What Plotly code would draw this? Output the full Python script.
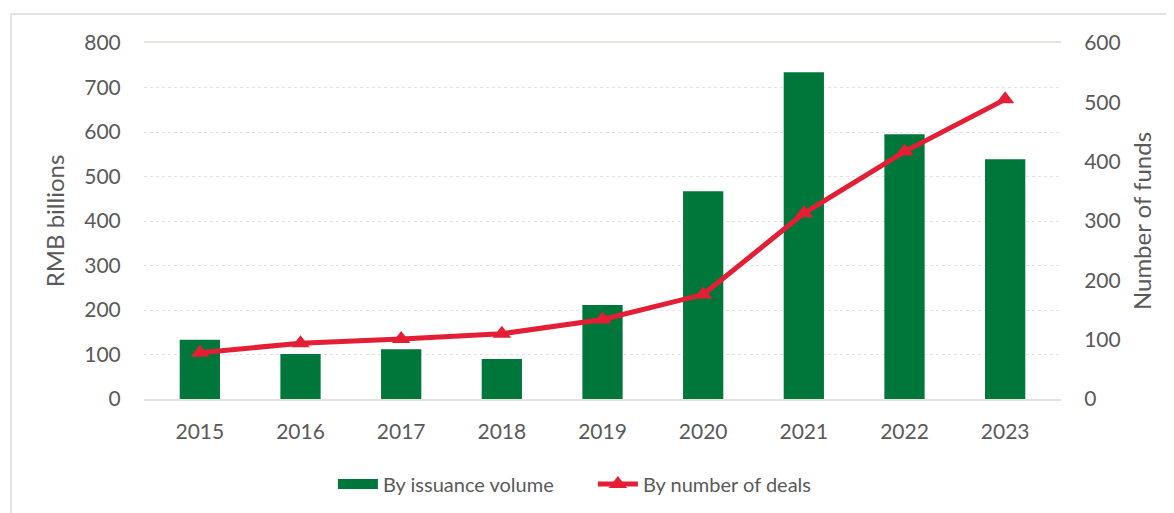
import plotly.graph_objects as go

years = ["2015", "2016", "2017", "2018", "2019", "2020", "2021", "2022", "2023"]
issuance_volume = [133, 101, 112, 90, 211, 467, 734, 595, 539]   # RMB billions
number_of_deals = [78, 94, 101, 110, 134, 176, 313, 417, 505]    # number of funds

GREEN = "#00773A"
RED = "#E41E34"
GREY = "#595959"
FONT = "Lato"

fig = go.Figure()
fig.add_trace(go.Bar(
    x=years, y=issuance_volume, name="By issuance volume",
    marker=dict(color=GREEN, line=dict(width=0)),
    showlegend=False, yaxis="y",
))
# legend swatch for the bars (wide rectangle like the original)
fig.add_trace(go.Scatter(
    x=[None], y=[None], mode="lines", name="By issuance volume",
    line=dict(color=GREEN, width=13), yaxis="y", hoverinfo="skip",
))
fig.add_trace(go.Scatter(
    x=years, y=number_of_deals, name="By number of deals", mode="lines+markers",
    line=dict(color=RED, width=5),
    marker=dict(symbol="triangle-up", size=16, color=RED),
    yaxis="y2",
))

fig.update_layout(
    width=1166, height=505,
    margin=dict(l=136, r=113, t=35, b=114),
    paper_bgcolor="white", plot_bgcolor="white",
    font=dict(family=FONT, size=21, color=GREY),
    bargap=0.6,
    xaxis=dict(
        type="category", showgrid=False, showline=True, linecolor="#E6E3DA", linewidth=1.5,
        mirror=True, ticks="outside", ticklen=13, tickcolor="rgba(0,0,0,0)",
        tickfont=dict(size=21, color=GREY),
    ),
    yaxis=dict(
        range=[0, 800], dtick=100, showgrid=True, gridcolor="#E3E3E3", griddash="dot",
        zeroline=False, showline=False, ticks="outside", ticklen=18, tickcolor="rgba(0,0,0,0)",
        title=dict(text="RMB billions", font=dict(size=24, color=GREY), standoff=12),
        tickfont=dict(size=21, color=GREY),
    ),
    yaxis2=dict(
        range=[0, 600], dtick=100, overlaying="y", side="right", showgrid=False,
        zeroline=False, showline=False, ticks="outside", ticklen=18, tickcolor="rgba(0,0,0,0)",
        title=dict(text="Number of funds", font=dict(size=24, color=GREY), standoff=14),
        tickfont=dict(size=21, color=GREY),
    ),
    legend=dict(
        orientation="h", x=0.206, xanchor="left", y=0.0574, yanchor="middle",
        yref="container", font=dict(size=20, color=GREY), itemwidth=40,
        entrywidth=205, entrywidthmode="pixels",
        traceorder="normal",
    ),
    shapes=[dict(
        type="rect", xref="paper", yref="paper",
        x0=-0.145, x1=1.3, y0=-0.6, y1=1.0815,
        line=dict(color="#D9D9D9", width=1.5), fillcolor="rgba(0,0,0,0)", layer="below",
    )],
)

fig.write_html("out.html")
